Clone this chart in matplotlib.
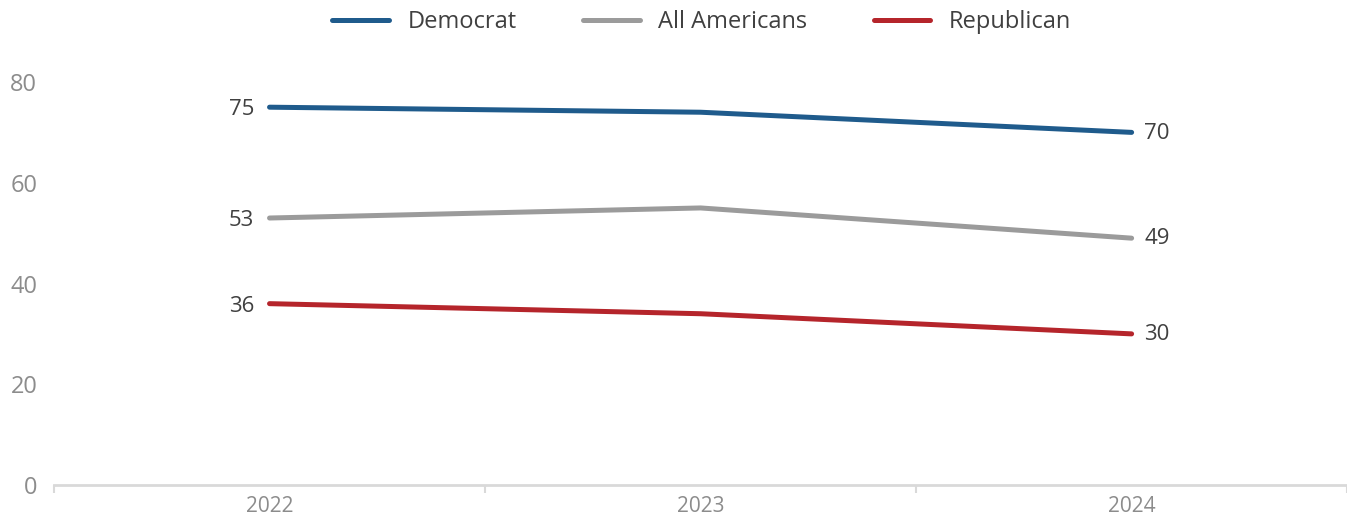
import matplotlib.pyplot as plt
import numpy as np

plt.rcParams['font.family'] = ['Open Sans', 'DejaVu Sans']

years = ['2022', '2023', '2024']
democrat = [75, 74, 70]
all_americans = [53, 55, 49]
republican = [36, 34, 30]

series_names = ['Democrat', 'All Americans', 'Republican']
series_values = [democrat, all_americans, republican]
series_colors = ['#1f5b8c', '#9b9b9b', '#b5252b']

fig = plt.figure(figsize=(13.47, 5.2), dpi=100)
ax = fig.add_axes([0.0401, 0.0673, 0.96, 0.775])

x = np.arange(len(years))
for name, vals, col in zip(series_names, series_values, series_colors):
    ax.plot(x, vals, color=col, lw=3.6, solid_capstyle='round', label=name)
    ax.annotate(str(vals[0]), (x[0], vals[0]), xytext=(-11, -2), textcoords='offset points',
                ha='right', va='center', fontsize=16, color='#404040')
    ax.annotate(str(vals[-1]), (x[-1], vals[-1]), xytext=(9, -0.5), textcoords='offset points',
                ha='left', va='center', fontsize=16, color='#404040')

ax.set_xlim(-0.5, 2.5)
ax.set_ylim(0, 80)
ax.set_yticks([0, 20, 40, 60, 80])
ax.set_xticks(x)
ax.set_xticklabels(years)
ax.set_xticks([-0.5, 0.5, 1.5, 2.5], minor=True)

for s in ['top', 'right', 'left']:
    ax.spines[s].set_visible(False)
ax.spines['bottom'].set_color('#d9d9d9')
ax.spines['bottom'].set_linewidth(2)

ax.tick_params(axis='y', length=0, pad=12, labelsize=17, labelcolor='#8c8c8c')
ax.tick_params(axis='x', which='major', length=0, pad=8, labelsize=15, labelcolor='#8c8c8c')
ax.tick_params(axis='x', which='minor', length=6, width=1.5, color='#d9d9d9')

handles, labels = ax.get_legend_handles_labels()
fig.legend(handles, labels, loc='center', bbox_to_anchor=(0.521, 0.958), ncol=3, frameon=False,
           fontsize=17, handlelength=2.4, columnspacing=2.8, handletextpad=0.8,
           labelcolor='#404040')

fig.savefig('out.png', dpi=100)
